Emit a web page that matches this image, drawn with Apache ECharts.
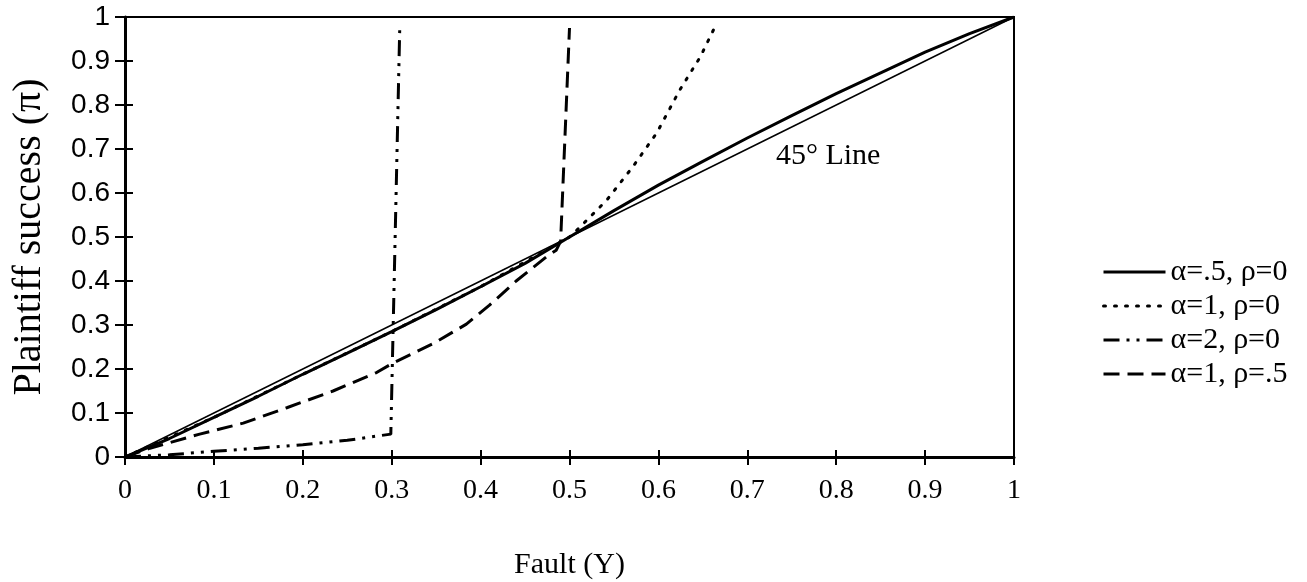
<!DOCTYPE html>
<html>
<head>
<meta charset="utf-8">
<script src="https://cdn.jsdelivr.net/npm/echarts@6/dist/echarts.min.js"></script>
<style>
  html, body { margin: 0; padding: 0; background: #fff; }
  #chart { width: 1307px; height: 582px; }
</style>
</head>
<body>
<div id="chart"></div>
<script>
// data
var seriesNames = ["α=.5, ρ=0", "α=1, ρ=0", "α=2, ρ=0", "α=1, ρ=.5"];
var xTicks = [0, 0.1, 0.2, 0.3, 0.4, 0.5, 0.6, 0.7, 0.8, 0.9, 1];

var line45 = [[0, 0], [1, 1]];

var alphaHalf = [
  [0, 0], [0.05, 0.042], [0.1, 0.09], [0.15, 0.138], [0.2, 0.188], [0.25, 0.236],
  [0.3, 0.285], [0.35, 0.335], [0.4, 0.387], [0.45, 0.44], [0.5, 0.5], [0.55, 0.56],
  [0.6, 0.618], [0.65, 0.672], [0.7, 0.725], [0.75, 0.776], [0.8, 0.826],
  [0.85, 0.873], [0.9, 0.92], [0.95, 0.962], [1, 1]
];

var alphaOne = [
  [0, 0], [0.1, 0.09], [0.2, 0.188], [0.3, 0.285], [0.4, 0.387], [0.5, 0.5],
  [0.512, 0.523], [0.542, 0.584], [0.571, 0.659], [0.598, 0.736],
  [0.624, 0.834], [0.647, 0.909], [0.663, 0.975]
];

var alphaTwo = [
  [0, 0], [0.05, 0.005], [0.1, 0.013], [0.15, 0.02], [0.2, 0.028],
  [0.25, 0.038], [0.299, 0.052], [0.309, 0.97]
];

var alphaOneRho = [
  [0, 0], [0.028, 0.02], [0.084, 0.052], [0.133, 0.077], [0.182, 0.112],
  [0.234, 0.15], [0.283, 0.192], [0.3, 0.212], [0.347, 0.258], [0.384, 0.302],
  [0.41, 0.345], [0.44, 0.4], [0.474, 0.455], [0.485, 0.47], [0.49, 0.49],
  [0.5, 0.975]
];

var serif = "Liberation Serif";
var sans = "Liberation Sans";
var chart = echarts.init(document.getElementById("chart"));

function axisBase(extra) {
  var a = {
    type: "value",
    min: 0,
    max: 1,
    interval: 0.1,
    splitLine: { show: false }
  };
  for (var k in extra) a[k] = extra[k];
  return a;
}

var option = {
  backgroundColor: "#fff",
  animation: false,
  color: ["#000"],
  grid: {
    left: 125, right: 293, top: 17, bottom: 125,
    outerBoundsMode: "none",
    show: true, borderColor: "#000", borderWidth: 2
  },
  legend: {
    orient: "vertical",
    left: 1097,
    top: 252,
    itemWidth: 62,
    itemHeight: 14,
    itemGap: 4,
    data: seriesNames,
    itemStyle: { opacity: 0 },
    lineStyle: { width: 3, color: "#000" },
    textStyle: { fontFamily: serif, fontSize: 30, color: "#000" }
  },
  xAxis: [
    axisBase({
      name: "Fault (Y)",
      nameLocation: "middle",
      nameGap: 93,
      nameTextStyle: { fontFamily: serif, fontSize: 30, color: "#000" },
      axisLine: { lineStyle: { color: "#000", width: 3 } },
      axisTick: { length: 8, lineStyle: { color: "#000", width: 2 } },
      axisLabel: {
        margin: 20, fontFamily: serif, fontSize: 28, color: "#000",
        formatter: function (v) { return xTicks.indexOf(v) >= 0 ? String(v) : ""; }
      }
    }),
    axisBase({
      position: "bottom",
      axisLine: { show: false },
      axisTick: { inside: true, length: 7, lineStyle: { color: "#000", width: 2 } },
      axisLabel: { show: false }
    })
  ],
  yAxis: [
    axisBase({
      name: "Plaintiff success (π)",
      nameLocation: "middle",
      nameGap: 76,
      nameTextStyle: { fontFamily: serif, fontSize: 40, color: "#000" },
      axisLine: { lineStyle: { color: "#000", width: 3 } },
      axisTick: { length: 10, lineStyle: { color: "#000", width: 2 } },
      axisLabel: { margin: 15, fontFamily: sans, fontSize: 28, color: "#000" }
    }),
    axisBase({
      position: "left",
      axisLine: { show: false },
      axisTick: { inside: true, length: 8, lineStyle: { color: "#000", width: 2 } },
      axisLabel: { show: false }
    })
  ],
  series: [
    {
      name: "45° Line",
      type: "line",
      data: line45,
      symbol: "none",
      z: 2,
      lineStyle: { color: "#000", width: 1.5 },
      markPoint: {
        symbol: "circle",
        symbolSize: 0,
        label: {
          show: true,
          formatter: "45° Line",
          fontFamily: serif,
          fontSize: 30,
          color: "#000"
        },
        data: [{ coord: [0.791, 0.683] }]
      }
    },
    {
      name: seriesNames[1],
      type: "line",
      data: alphaOne,
      symbol: "none",
      z: 2,
      itemStyle: { color: "#000" },
      lineStyle: { color: "#000", width: 3, type: [2, 9], cap: "round" }
    },
    {
      name: seriesNames[2],
      type: "line",
      data: alphaTwo,
      symbol: "none",
      z: 2,
      itemStyle: { color: "#000" },
      lineStyle: { color: "#000", width: 3, type: [16, 7, 3, 7, 3, 7] }
    },
    {
      name: seriesNames[3],
      type: "line",
      data: alphaOneRho,
      symbol: "none",
      z: 2,
      itemStyle: { color: "#000" },
      lineStyle: { color: "#000", width: 3, type: [16, 8] }
    },
    {
      name: seriesNames[0],
      type: "line",
      data: alphaHalf,
      symbol: "none",
      z: 3,
      itemStyle: { color: "#000" },
      lineStyle: { color: "#000", width: 3 }
    }
  ]
};

chart.setOption(option);
</script>
</body>
</html>
